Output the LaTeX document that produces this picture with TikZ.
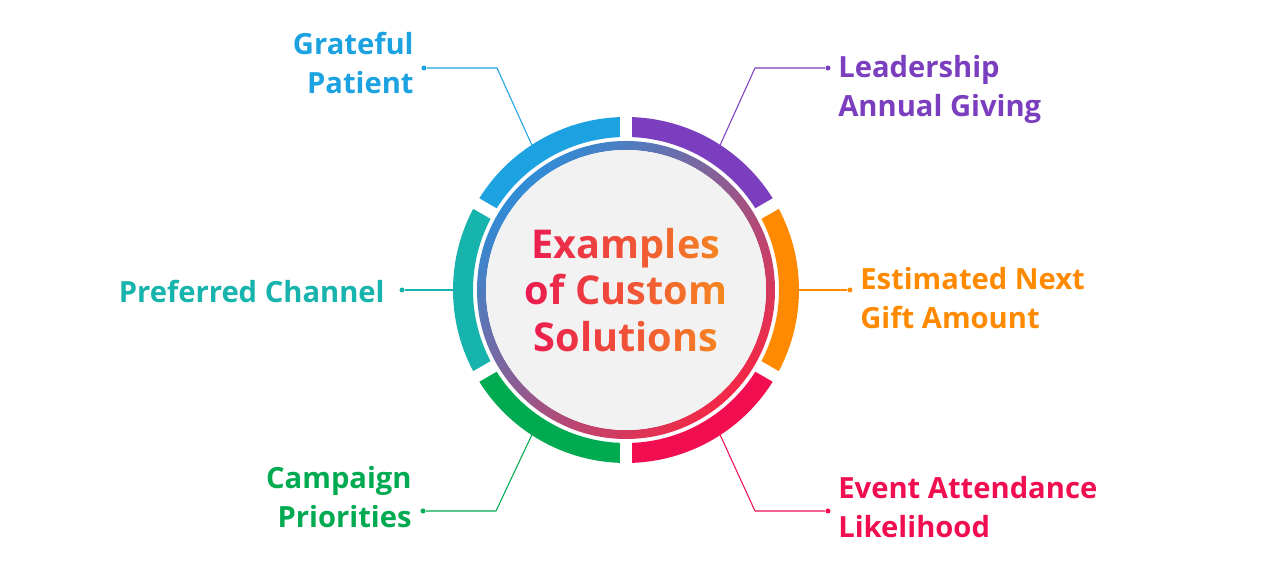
\documentclass[tikz,border=0pt]{standalone}
\usepackage{fontspec}
\setmainfont{Open Sans}
\usetikzlibrary{fadings}
\definecolor{skyblue}{RGB}{28, 162, 224}
\definecolor{amethyst}{RGB}{122, 62, 190}
\definecolor{tangerine}{RGB}{255, 138, 0}
\definecolor{crimson}{RGB}{240, 14, 80}
\definecolor{jade}{RGB}{0, 170, 80}
\definecolor{lagoon}{RGB}{22, 180, 172}
\definecolor{ringblue}{RGB}{48, 140, 214}
\definecolor{ringpurple}{RGB}{140, 58, 160}
\definecolor{ringred}{RGB}{245, 40, 70}
\definecolor{titlered}{RGB}{234, 22, 82}
\definecolor{titleorange}{RGB}{246, 140, 30}
\definecolor{coregray}{RGB}{243, 242, 242}

\begin{tikzfadingfrompicture}[name=titlefade]
  \node[text=transparent!0, font=\fontsize{22.6}{26.5}\selectfont\bfseries, align=center] (titletext) {Examples\\of Custom\\Solutions};
\end{tikzfadingfrompicture}

\begin{document}
\begin{tikzpicture}[
    label/.style={font=\fontsize{16.6}{22}\selectfont\bfseries, inner sep=0pt},
    dot/.style={circle, inner sep=0pt, minimum size=0.1cm},
    link/.style={line width=0.6pt},
    seg/.style={line width=0.40cm}]
  \useasboundingbox (-12.52,-5.70) rectangle (13.08,5.80);
  % outer ring
  \draw[seg, color=amethyst]  (30:3.26)  arc (30:90:3.26);
  \draw[seg, color=skyblue]   (90:3.26)  arc (90:150:3.26);
  \draw[seg, color=lagoon]    (150:3.26) arc (150:210:3.26);
  \draw[seg, color=jade]      (210:3.26) arc (210:270:3.26);
  \draw[seg, color=crimson]   (270:3.26) arc (270:330:3.26);
  \draw[seg, color=tangerine] (-30:3.26) arc (-30:30:3.26);
  \draw[white, line width=0.24cm] (30:3.02)  -- (30:3.52);
  \draw[white, line width=0.24cm] (90:3.02)  -- (90:3.52);
  \draw[white, line width=0.24cm] (150:3.02) -- (150:3.52);
  \draw[white, line width=0.24cm] (210:3.02) -- (210:3.52);
  \draw[white, line width=0.24cm] (270:3.02) -- (270:3.52);
  \draw[white, line width=0.24cm] (330:3.02) -- (330:3.52);
  % inner ring and core
  \shade[even odd rule, top color=ringblue, middle color=ringpurple, bottom color=ringred, shading angle=45]
      (0,0) circle (2.98) (0,0) circle (2.80);
  \fill[coregray] (0,0) circle (2.80);
  \shade[path fading=titlefade, fit fading=false, left color=titlered, right color=titleorange]
      (-2.15,-1.30) rectangle (2.15,1.30);

  % Grateful Patient
  \node[dot, fill=skyblue] (gp-dot) at (-4.04, 4.44) {};
  \coordinate (gp-bend) at (-2.58, 4.44);
  \coordinate (gp-ring) at (123:3.46);
  \draw[link, skyblue] (gp-dot) -- (gp-bend) -- (gp-ring);
  \node[label, text=skyblue, anchor=north east, align=right] (gp) at (-4.24, 5.16) {Grateful\\Patient};

  % Leadership Annual Giving
  \node[dot, fill=amethyst] (la-dot) at (4.04, 4.44) {};
  \coordinate (la-bend) at (2.58, 4.44);
  \coordinate (la-ring) at (57:3.46);
  \draw[link, amethyst] (la-dot) -- (la-bend) -- (la-ring);
  \node[label, text=amethyst, anchor=north west, align=left] (la) at (4.24, 4.70) {Leadership\\Annual Giving};

  % Preferred Channel
  \node[dot, fill=lagoon] (pc-dot) at (-4.48, 0.00) {};
  \coordinate (pc-ring) at (180:3.46);
  \draw[link, lagoon] (pc-dot) -- (pc-ring);
  \node[label, text=lagoon, anchor=east] (pc) at (-4.82, -0.02) {Preferred Channel};

  % Estimated Next Gift Amount
  \node[dot, fill=tangerine] (eg-dot) at (4.48, 0.00) {};
  \coordinate (eg-ring) at (0:3.46);
  \draw[link, tangerine] (eg-ring) -- (eg-dot);
  \node[label, text=tangerine, anchor=north west, align=left] (eg) at (4.68, 0.46) {Estimated Next\\Gift Amount};

  % Campaign Priorities
  \node[dot, fill=jade] (cp-dot) at (-4.06, -4.42) {};
  \coordinate (cp-bend) at (-2.60, -4.42);
  \coordinate (cp-ring) at (-123:3.46);
  \draw[link, jade] (cp-dot) -- (cp-bend) -- (cp-ring);
  \node[label, text=jade, anchor=north east, align=right] (cp) at (-4.28, -3.52) {Campaign\\Priorities};

  % Event Attendance Likelihood
  \node[dot, fill=crimson] (ea-dot) at (4.04, -4.42) {};
  \coordinate (ea-bend) at (2.58, -4.42);
  \coordinate (ea-ring) at (-57:3.46);
  \draw[link, crimson] (ea-dot) -- (ea-bend) -- (ea-ring);
  \node[label, text=crimson, anchor=north west, align=left] (ea) at (4.24, -3.72) {Event Attendance\\Likelihood};
\end{tikzpicture}
\end{document}
